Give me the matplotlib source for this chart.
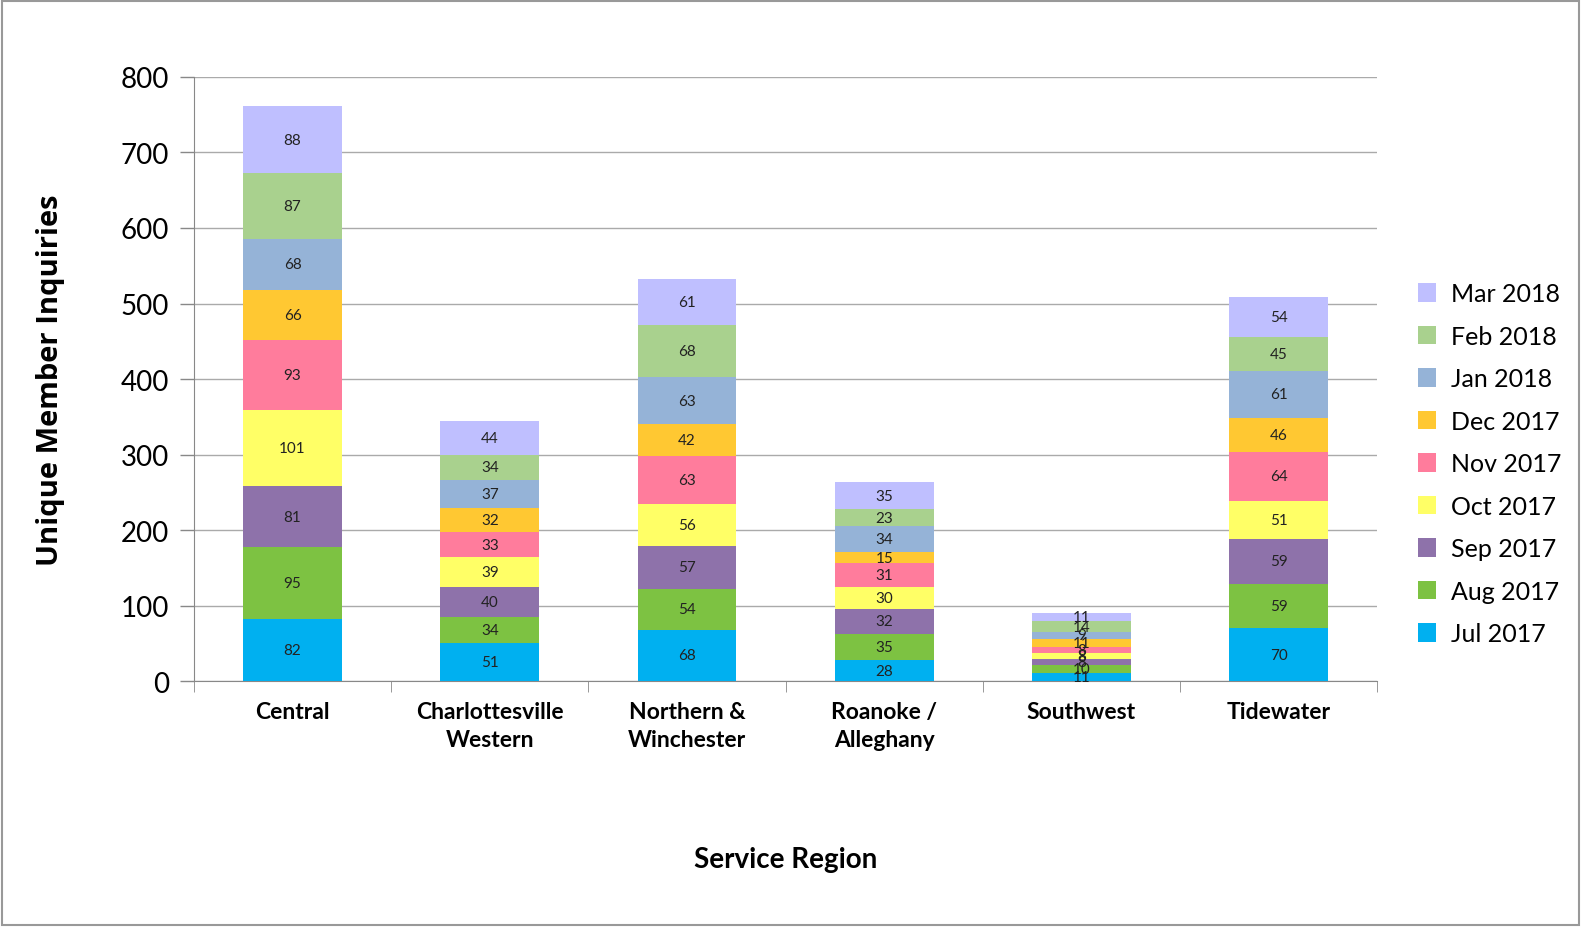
import matplotlib
matplotlib.use("Agg")
import matplotlib.pyplot as plt
import numpy as np
from matplotlib.patches import Rectangle

regions = ["Central", "Charlottesville\nWestern", "Northern &\nWinchester", "Roanoke /\nAlleghany", "Southwest", "Tidewater"]
months = ["Jul 2017", "Aug 2017", "Sep 2017", "Oct 2017", "Nov 2017", "Dec 2017", "Jan 2018", "Feb 2018", "Mar 2018"]
jul = [82, 51, 68, 28, 11, 70]
aug = [95, 34, 54, 35, 10, 59]
sep = [81, 40, 57, 32, 8, 59]
oct_ = [101, 39, 56, 30, 8, 51]
nov = [93, 33, 63, 31, 8, 64]
dec = [66, 32, 42, 15, 11, 46]
jan = [68, 37, 63, 34, 9, 61]
feb = [87, 34, 68, 23, 14, 45]
mar = [88, 44, 61, 35, 11, 54]
series = [jul, aug, sep, oct_, nov, dec, jan, feb, mar]
colors = ["#00B0F0", "#7DC242", "#8E72AA", "#FFFF66", "#FF7C9C", "#FFC832", "#95B3D7", "#A9D18E", "#BFBFFF"]

plt.rcParams['font.family'] = ['Lato', 'DejaVu Sans']

fig = plt.figure(figsize=(15.82, 9.28), dpi=100)
ax = fig.add_axes([0.1226, 0.265, 0.748, 0.651])

x = np.arange(len(regions))
bottom = np.zeros(len(regions))
handles = []
for vals, col, lab in zip(series, colors, months):
    v = np.array(vals, dtype=float)
    bars = ax.bar(x, v, 0.5, bottom=bottom, color=col, label=lab, zorder=3)
    handles.append(bars)
    for xi, b, vi in zip(x, bottom, v):
        ax.text(xi, b + vi / 2, str(int(vi)), ha='center', va='center', fontsize=11, color='#222222', zorder=4)
    bottom += v

ax.set_xlim(-0.5, len(regions) - 0.5)
ax.set_ylim(0, 800)
ax.set_yticks(range(0, 801, 100))
ax.tick_params(axis='y', labelsize=20, length=10, color='#888888', width=1, pad=8)
ax.set_xticks(x)
ax.set_xticklabels(regions, fontsize=16.5, fontweight='bold', linespacing=1.45)
ax.set_xticks(np.arange(-0.5, len(regions), 1), minor=True)
ax.tick_params(axis='x', which='major', length=0, pad=14)
ax.tick_params(axis='x', which='minor', length=8, color='#888888')
ax.yaxis.grid(True, color='#AAAAAA', linewidth=1, zorder=0)
ax.set_axisbelow(True)
for s in ['top', 'right']:
    ax.spines[s].set_visible(False)
ax.spines['left'].set_color('#888888')
ax.spines['bottom'].set_color('#888888')

ax.set_ylabel("Unique Member Inquiries", fontsize=21, fontweight='bold', family=['Open Sans', 'DejaVu Sans'], labelpad=40)
ax.set_xlabel("Service Region", fontsize=20, fontweight='bold', labelpad=69)

leg = ax.legend(handles[::-1], months[::-1], loc='center left', bbox_to_anchor=(1.015, 0.36),
                frameon=False, fontsize=18, handlelength=0.75, handleheight=0.75, labelspacing=0.78, handletextpad=0.6)

fig.patches.append(Rectangle((0.001, 0.002), 0.997, 0.996, transform=fig.transFigure, fill=False,
                             edgecolor='#999999', linewidth=1.5))

fig.savefig("out.png", dpi=100)
